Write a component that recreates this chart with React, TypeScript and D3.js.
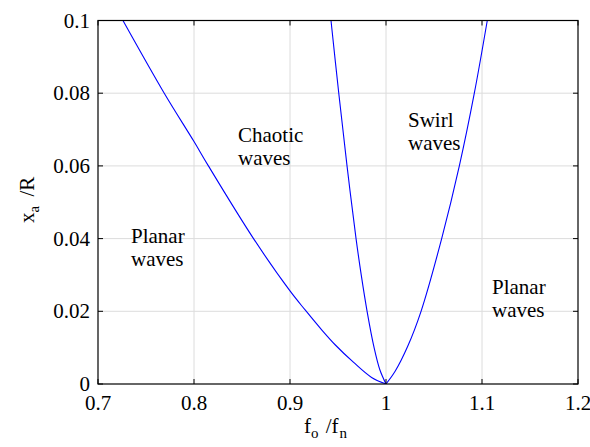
import React from "react";
import * as d3 from "d3";

// Boundary curves (f0/fn, xa/R)
const chaoticBoundaryF = [0.726, 0.769, 0.8, 0.815, 0.862, 0.9, 0.916, 0.933, 0.947, 0.966, 0.985, 1.0];
const chaoticBoundaryX = [0.1, 0.08, 0.0667, 0.06, 0.04, 0.0256, 0.0203, 0.0149, 0.0108, 0.006, 0.0018, 0];

const swirlLeftF = [0.9427, 0.9508, 0.9594, 0.9688, 0.9742, 0.9803, 0.9876, 0.9935, 1.0];
const swirlLeftX = [0.1, 0.08, 0.06, 0.04, 0.03, 0.02, 0.01, 0.004, 0];

const swirlRightF = [1.0, 1.0095, 1.0225, 1.0365, 1.058, 1.0764, 1.092, 1.1055];
const swirlRightX = [0, 0.0035, 0.0103, 0.02, 0.04, 0.06, 0.08, 0.1];

const xTicks = [0.7, 0.8, 0.9, 1.0, 1.1, 1.2];
const xTickLabels = ["0.7", "0.8", "0.9", "1", "1.1", "1.2"];
const yTicks = [0, 0.02, 0.04, 0.06, 0.08, 0.1];
const yTickLabels = ["0", "0.02", "0.04", "0.06", "0.08", "0.1"];

const regionLabels = [
  { lines: ["Planar", "waves"], f: 0.7344, v: 0.0388 },
  { lines: ["Chaotic", "waves"], f: 0.8458, v: 0.0666 },
  { lines: ["Swirl", "waves"], f: 1.0229, v: 0.0707 },
  { lines: ["Planar", "waves"], f: 1.1104, v: 0.0248 },
];

const W = 590;
const H = 447;
const M = { left: 98, right: 578, top: 20.5, bottom: 384 };
const FONT = "'Liberation Serif', 'Times New Roman', serif";
const FS = 21;
const r = Math.round;

export default function App() {
  const x = d3.scaleLinear().domain([0.7, 1.2]).range([M.left, M.right]);
  const y = d3.scaleLinear().domain([0, 0.1]).range([M.bottom, M.top]);

  const mk = (fs: number[], vs: number[]) =>
    d3
      .line<number>()
      .x((_, i) => x(fs[i]))
      .y((_, i) => y(vs[i]))
      .curve(d3.curveCatmullRom.alpha(0.5))(fs.map((_, i) => i)) || "";

  const curves = [
    mk(chaoticBoundaryF, chaoticBoundaryX),
    mk(swirlLeftF, swirlLeftX),
    mk(swirlRightF, swirlRightX),
  ];

  const grid = "#dcdcdc";
  const tickLen = 5;

  return (
    <div style={{ position: "absolute", left: 0, top: 0, width: W, height: H, fontFamily: FONT }}>
      <style>{`svg text, svg tspan { font-family: ${FONT} !important; }`}</style>
      <svg width={W} height={H} style={{ display: "block", background: "#fff" }}>
        <defs>
          <clipPath id="plotclip">
            <rect x={M.left} y={M.top} width={M.right - M.left} height={M.bottom - M.top} />
          </clipPath>
        </defs>
        <rect x={0} y={0} width={W} height={H} fill="#fff" />
        {xTicks.slice(1, -1).map((t) => (
          <line key={"gx" + t} x1={x(t)} x2={x(t)} y1={M.top} y2={M.bottom} stroke={grid} strokeWidth={1} />
        ))}
        {yTicks.slice(1, -1).map((t) => (
          <line key={"gy" + t} x1={M.left} x2={M.right} y1={y(t)} y2={y(t)} stroke={grid} strokeWidth={1} />
        ))}
        {regionLabels.map((lab, i) =>
          lab.lines.map((l, j) => (
            <text key={"rl" + i + "_" + j} x={r(x(lab.f))} y={r(y(lab.v)) + j * 23} fontSize={FS}>
              {l}
            </text>
          ))
        )}
        <g clipPath="url(#plotclip)">
          {curves.map((d, i) => (
            <path key={"c" + i} d={d} fill="none" stroke="#0000ff" strokeWidth={1.1} />
          ))}
        </g>
        <rect
          x={M.left}
          y={M.top}
          width={M.right - M.left}
          height={M.bottom - M.top}
          fill="none"
          stroke="#000"
          strokeWidth={1.2}
        />
        {xTicks.map((t) => (
          <g key={"tx" + t}>
            <line x1={x(t)} x2={x(t)} y1={M.bottom} y2={M.bottom - tickLen} stroke="#000" />
            <line x1={x(t)} x2={x(t)} y1={M.top} y2={M.top + tickLen} stroke="#000" />
          </g>
        ))}
        {yTicks.map((t) => (
          <g key={"ty" + t}>
            <line x1={M.left} x2={M.left + tickLen} y1={y(t)} y2={y(t)} stroke="#000" />
            <line x1={M.right} x2={M.right - tickLen} y1={y(t)} y2={y(t)} stroke="#000" />
          </g>
        ))}
        {xTicks.map((t, i) => (
          <text key={"lx" + t} x={r(x(t))} y={410} fontSize={FS} textAnchor="middle">
            {xTickLabels[i]}
          </text>
        ))}
        {yTicks.map((t, i) => (
          <text key={"ly" + t} x={90} y={r(y(t) + 7)} fontSize={FS} textAnchor="end">
            {yTickLabels[i]}
          </text>
        ))}
        <text x={304} y={433} fontSize={FS}>
          f
          <tspan fontSize={15} dy={5}>o</tspan>
          <tspan dy={-5} dx={2}> /f</tspan>
          <tspan fontSize={15} dy={5} dx={1}>n</tspan>
        </text>
        <text transform="translate(34,223) rotate(-90)" fontSize={FS}>
          x
          <tspan fontSize={15} dy={5}>a</tspan>
          <tspan dy={-5} dx={4}> /R</tspan>
        </text>
      </svg>
    </div>
  );
}
